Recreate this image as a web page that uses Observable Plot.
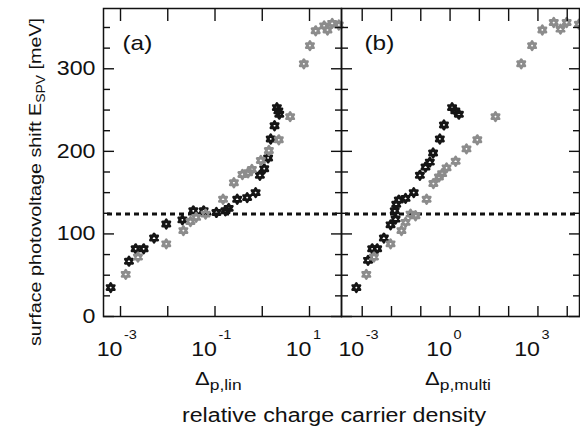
<!DOCTYPE html>
<html><head><meta charset="utf-8">
<script src="https://cdn.jsdelivr.net/npm/d3@7"></script>
<script src="https://cdn.jsdelivr.net/npm/@observablehq/plot@0.6"></script>
<style>
body{margin:0;background:#fff}
#wrap{position:relative;width:580px;height:439px;overflow:hidden;font-family:"Liberation Sans",Arial,sans-serif;background:#fff}
#wrap svg{position:absolute;top:0}
</style></head><body><div id="wrap"></div>
<script>
// ---- data ----
const yTicksMajor = [0, 100, 200, 300];
const yTicksMinor = [25, 50, 75, 125, 150, 175, 225, 250, 275, 325, 350];
const dashedLevel = 124;

const aDecades = [1e-3, 1e-2, 1e-1, 1, 10];
const aLabelDecades = [1e-3, 1e-1, 10];
const aLabelExp = ["-3", "-1", "1"];
const aBlackX = [6.2e-4, 1.51e-3, 2.09e-3, 3.09e-3, 5.13e-3, 9.3e-3, 0.0204, 0.0347, 0.0575, 0.107, 0.166, 0.195, 0.295, 0.479, 0.724, 0.891, 1.10, 1.33, 1.51, 1.82, 2.04, 2.19, 2.29];
const aBlackY = [35, 67, 82, 82, 95, 112, 117, 128, 128, 126, 128, 131, 142, 144, 150, 171, 179, 192, 215, 231, 253, 249, 245];
const aGrayX = [1.29e-3, 2.34e-3, 9.3e-3, 0.0214, 0.0302, 0.0398, 0.0631, 0.148, 0.251, 0.380, 0.501, 0.603, 0.933, 1.38, 2.24, 3.89, 7.59, 10.2, 13.5, 20.4, 24.0, 30.2, 41.7];
const aGrayY = [51, 72, 88, 104, 115, 120, 124, 142, 162, 172, 174, 178, 189, 201, 214, 242, 306, 328, 346, 352, 347, 355, 353];

const bDecades = [1e-3, 1e-2, 1e-1, 1, 10, 100, 1e3, 1e4];
const bLabelDecades = [1e-3, 1, 1e3];
const bLabelExp = ["-3", "0", "3"];
const bBlackX = [6.3e-4, 1.58e-3, 2.19e-3, 3.24e-3, 5.5e-3, 9.3e-3, 0.0138, 0.0129, 0.0145, 0.0178, 0.0302, 0.0575, 0.0933, 0.145, 0.204, 0.263, 0.447, 0.617, 1.17, 1.51, 2.0];
const bBlackY = [35, 68, 82, 82, 95, 111, 118, 128, 136, 141, 143, 150, 171, 181, 187, 198, 215, 232, 253, 249, 245];
const bGrayX = [1.38e-3, 2.51e-3, 9.3e-3, 0.0219, 0.0302, 0.0447, 0.0661, 0.158, 0.269, 0.417, 0.537, 0.759, 1.55, 3.63, 8.51, 35.5, 269, 631, 1413, 3467, 5888, 9550, 25119];
const bGrayY = [51, 72, 88, 104, 114, 124, 122, 142, 161, 169, 173, 180, 188, 203, 214, 242, 306, 328, 347, 356, 348, 356, 354];

const blackColor = "#151515";
const grayColor = "#8c8c8c";
const STRETCH = 1.16;

// hexagram marker
const hexagram = {
  draw(ctx, size) {
    const r = Math.sqrt(size / Math.PI);
    for (const rot of [-Math.PI / 2, Math.PI / 2]) {
      for (let k = 0; k < 3; k++) {
        const a = rot + k * 2 * Math.PI / 3;
        const px = r * Math.cos(a), py = r * Math.sin(a);
        if (k === 0) ctx.moveTo(px, py); else ctx.lineTo(px, py);
      }
      ctx.closePath();
    }
  }
};

function panel(o) {
  const tk = {fill: "none", label: null, strokeWidth: 1.4, stroke: "#111"};
  const dotStyle = {symbol: hexagram, r: 4.3, strokeWidth: 2.6, strokeLinejoin: "round", fill: "none", clip: o.clip};
  const marks = [
    Plot.ruleY([dashedLevel], {stroke: "#111", strokeWidth: 3, strokeDasharray: "5,4", insetLeft: 4}),
    Plot.dot(o.blackX, {x: o.blackX, y: o.blackY, stroke: blackColor, ...dotStyle}),
    Plot.dot(o.grayX, {x: o.grayX, y: o.grayY, stroke: grayColor, ...dotStyle}),
    Plot.axisY(yTicksMajor, {...tk, anchor: "left", tickSize: 11, dx: 11}),
    Plot.axisY(yTicksMinor, {...tk, anchor: "left", tickSize: 7, dx: 7}),
    Plot.axisY(yTicksMajor, {...tk, anchor: "right", tickSize: 11, dx: -11}),
    Plot.axisY(yTicksMinor, {...tk, anchor: "right", tickSize: 7, dx: -7}),
    Plot.axisX(o.decades, {...tk, anchor: "bottom", tickSize: 10, dy: -10}),
    Plot.axisX(o.decades, {...tk, anchor: "top", tickSize: 12, dy: 12}),
    Plot.frame({stroke: "#111", strokeWidth: 1.5}),
    Plot.text(o.labelDecades, {x: d => d, text: () => "10", frameAnchor: "bottom", textAnchor: "end", lineAnchor: "bottom", dx: 2, dy: 39, fontSize: 20, fill: "#111"}),
    Plot.text(o.labelDecades, {x: d => d, text: (d, i) => o.labelExp[i], frameAnchor: "bottom", textAnchor: "start", lineAnchor: "bottom", dx: 3.5, dy: 22.5, fontSize: 12.5, fill: "#111"}),
    Plot.text([o.label], {text: d => d, frameAnchor: "top-left", textAnchor: "start", lineAnchor: "bottom", dx: o.labelDx, dy: 41, fontSize: 21, fill: "#111"})
  ];
  if (o.showY) marks.push(Plot.text(yTicksMajor, {y: d => d, text: d => String(d), frameAnchor: "left", textAnchor: "end", lineAnchor: "middle", dx: -8, fontSize: 20, fill: "#111"}));
  const svg = Plot.plot({
    width: o.width, height: 380,
    marginLeft: o.marginLeft, marginRight: o.marginRight, marginTop: 8, marginBottom: 64,
    x: {type: "log", domain: o.domain},
    y: {domain: [0, 373]},
    style: {background: "transparent", fontFamily: "'Liberation Sans', Arial, sans-serif", overflow: "visible"},
    marks
  });
  for (const t of svg.querySelectorAll("text")) {
    t.setAttribute("transform", (t.getAttribute("transform") || "") + ` scale(${STRETCH},1)`);
  }
  svg.style.left = o.left + "px";
  return svg;
}

const wrap = document.getElementById("wrap");
wrap.appendChild(panel({
  width: 343, marginLeft: 103, marginRight: 2, left: 0,
  domain: [10 ** -3.36, 10 ** 1.677], decades: aDecades, labelDecades: aLabelDecades, labelExp: aLabelExp,
  blackX: aBlackX, blackY: aBlackY, grayX: aGrayX, grayY: aGrayY, label: "(a)", labelDx: 19, showY: true, clip: false
}));
wrap.appendChild(panel({
  width: 241, marginLeft: 2, marginRight: 1, left: 339,
  domain: [10 ** -3.707, 10 ** 4.419], decades: bDecades, labelDecades: bLabelDecades, labelExp: bLabelExp,
  blackX: bBlackX, blackY: bBlackY, grayX: bGrayX, grayY: bGrayY, label: "(b)", labelDx: 23, showY: false, clip: true
}));

// axis titles
const ns = "http://www.w3.org/2000/svg";
const ov = document.createElementNS(ns, "svg");
ov.setAttribute("width", 580); ov.setAttribute("height", 439);
ov.style.left = "0px";
ov.innerHTML = `
<g fill="#111" font-family="'Liberation Sans', Arial, sans-serif">
  <text transform="translate(41,182) rotate(-90) scale(${STRETCH},1)" text-anchor="middle" font-size="17">surface photovoltage shift E<tspan font-size="12" dy="4">SPV</tspan><tspan dy="-4"> [meV]</tspan></text>
  <text transform="translate(195,385) scale(${STRETCH},1)" font-size="19">Δ<tspan font-size="15" dy="4.5">p,lin</tspan></text>
  <text transform="translate(425,385) scale(${STRETCH},1)" font-size="19">Δ<tspan font-size="15" dy="4.5">p,multi</tspan></text>
  <text transform="translate(182,422) scale(${STRETCH},1)" font-size="20">relative charge carrier density</text>
</g>`;
wrap.appendChild(ov);
</script>
</body></html>
